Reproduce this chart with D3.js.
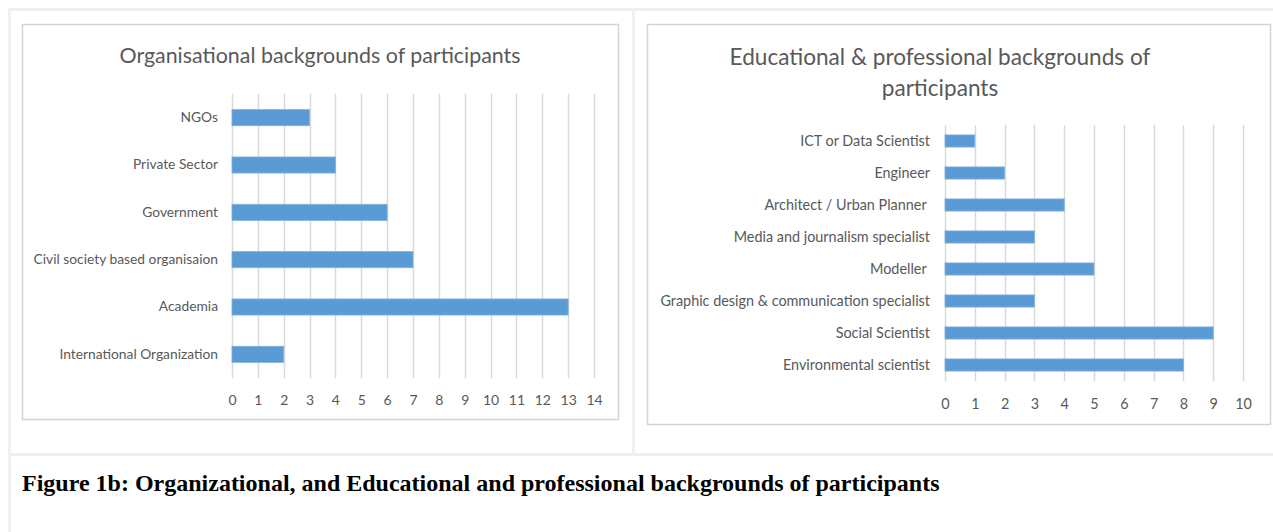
<!DOCTYPE html>
<html>
<head>
<meta charset="utf-8">
<script src="https://d3js.org/d3.v7.min.js"></script>
<style>
    body { margin: 0; background: #ffffff; }
    text { white-space: pre; }
</style>
</head>
<body>
<div id="my_dataviz"></div>
<script>

// Organisational backgrounds
var orgCategories = ["NGOs", "Private Sector", "Government", "Civil society based organisaion", "Academia", "International Organization"];
var orgValues = [3, 4, 6, 7, 13, 2];
var orgTicks = [0, 1, 2, 3, 4, 5, 6, 7, 8, 9, 10, 11, 12, 13, 14];

// Educational & professional backgrounds
var eduCategories = ["ICT or Data Scientist", "Engineer", "Architect / Urban Planner ", "Media and journalism specialist", "Modeller ", "Graphic design & communication specialist", "Social Scientist", "Environmental scientist"];
var eduValues = [1, 2, 4, 3, 5, 3, 9, 8];
var eduTicks = [0, 1, 2, 3, 4, 5, 6, 7, 8, 9, 10];

var captionText = "Figure 1b: Organizational, and Educational and professional backgrounds of participants";

var W = 1273, H = 532;
var labelFont = "Lato, 'Open Sans', sans-serif";
var textColor = "#595959";
var gridColor = "#d9d9d9";
var barColor = "#5b9bd5";

var svg = d3.select("#my_dataviz")
    .append("svg")
    .attr("width", W)
    .attr("height", H);

// table borders around the two charts
var band = "#efefef";
svg.append("rect").attr("x", 8).attr("y", 8).attr("width", W - 8).attr("height", 3).attr("fill", band);
svg.append("rect").attr("x", 8).attr("y", 8).attr("width", 3).attr("height", H - 8).attr("fill", band);
svg.append("rect").attr("x", 632).attr("y", 8).attr("width", 3).attr("height", 446).attr("fill", band);
svg.append("rect").attr("x", 8).attr("y", 453).attr("width", W - 8).attr("height", 3).attr("fill", band);

function barChart(opt) {
    var g = svg.append("g");

    // chart frame
    g.append("rect")
        .attr("x", opt.frame[0] + 0.5)
        .attr("y", opt.frame[1] + 0.5)
        .attr("width", opt.frame[2] - opt.frame[0])
        .attr("height", opt.frame[3] - opt.frame[1])
        .attr("fill", "#ffffff")
        .attr("stroke", "#d4d4d4")
        .attr("stroke-width", 1.5);

    // Title
    var title = g.append("text")
        .attr("text-anchor", "middle")
        .attr("font-family", labelFont)
        .attr("font-size", opt.titleSize)
        .attr("fill", textColor);
    opt.title.forEach(function (line, i) {
        title.append("tspan")
            .attr("x", opt.titleX)
            .attr("y", opt.titleY + i * 31)
            .text(line);
    });

    var x = d3.scaleLinear()
        .domain([0, opt.ticks[opt.ticks.length - 1]])
        .range(opt.xRange);

    var y = d3.scaleBand()
        .domain(opt.categories)
        .range(opt.yRange)
        .paddingInner(opt.pad)
        .paddingOuter(opt.pad / 2);

    // vertical gridlines
    g.append("g")
        .selectAll("line")
        .data(opt.ticks)
        .enter().append("line")
        .attr("x1", function (d) { return Math.round(x(d)) + 0.5; })
        .attr("x2", function (d) { return Math.round(x(d)) + 0.5; })
        .attr("y1", opt.yRange[0])
        .attr("y2", opt.yRange[1])
        .attr("stroke", gridColor)
        .attr("stroke-width", 1.5);

    // X axis labels
    var xAxis = g.append("g")
        .attr("transform", "translate(0," + opt.tickY + ")")
        .call(d3.axisBottom(x).tickValues(opt.ticks).tickSize(0).tickPadding(0).tickFormat(d3.format("d")));
    xAxis.select(".domain").remove();
    xAxis.selectAll("text")
        .attr("font-family", labelFont)
        .attr("font-size", opt.tickSize)
        .attr("fill", textColor)
        .attr("dy", "0.35em");

    // Y axis labels
    var yAxis = g.append("g")
        .attr("transform", "translate(" + (opt.xRange[0] - opt.labelGap) + ",0)")
        .call(d3.axisLeft(y).tickSize(0).tickPadding(0));
    yAxis.select(".domain").remove();
    yAxis.selectAll("text")
        .attr("font-family", labelFont)
        .attr("font-size", opt.fontSize)
        .attr("fill", textColor);

    // bars
    g.append("g")
        .selectAll("rect")
        .data(opt.values)
        .enter().append("rect")
        .attr("x", x(0))
        .attr("y", function (d, i) { return y(opt.categories[i]); })
        .attr("width", function (d) { return x(d) - x(0); })
        .attr("height", y.bandwidth())
        .attr("fill", barColor)
        .attr("stroke", "#7eb1de")
        .attr("stroke-width", 0.8);
}

barChart({
    frame: [22, 24, 618, 419],
    title: ["Organisational backgrounds of participants"],
    titleX: 320, titleY: 63, titleSize: 21.4,
    categories: orgCategories,
    values: orgValues,
    ticks: orgTicks,
    xRange: [232, 594],
    yRange: [94, 378],
    pad: 0.66,
    tickY: 400,
    labelGap: 14,
    fontSize: 13.8,
    tickSize: 14
});

barChart({
    frame: [647, 24, 1270, 424],
    title: ["Educational & professional backgrounds of", "participants"],
    titleX: 940, titleY: 65, titleSize: 22.6,
    categories: eduCategories,
    values: eduValues,
    ticks: eduTicks,
    xRange: [945, 1243],
    yRange: [125, 381],
    pad: 0.62,
    tickY: 404,
    labelGap: 15,
    fontSize: 14.4,
    tickSize: 14.4
});

// Caption
svg.append("text")
    .attr("x", 22)
    .attr("y", 491)
    .attr("font-family", "'Liberation Serif', 'Times New Roman', serif")
    .attr("font-weight", "bold")
    .attr("font-size", 24)
    .attr("fill", "#000000")
    .text(captionText);

</script>
</body>
</html>
